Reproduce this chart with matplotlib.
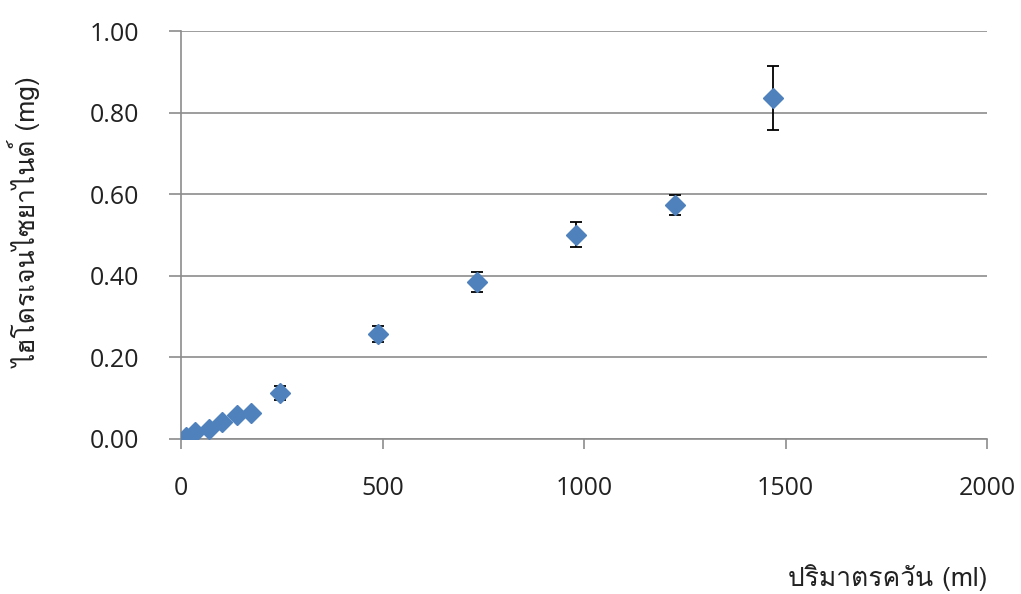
import matplotlib
matplotlib.use("Agg")
import matplotlib.pyplot as plt
from matplotlib import font_manager
from matplotlib.ft2font import FT2Font

# data
smoke_ml = [12, 35, 70, 102, 139, 174, 245, 490, 735, 980, 1225, 1470]
hcn_mg = [0.005, 0.017, 0.025, 0.042, 0.060, 0.063, 0.113, 0.258, 0.385, 0.501, 0.574, 0.837]
hcn_err = [0.002, 0.002, 0.002, 0.003, 0.003, 0.003, 0.018, 0.020, 0.024, 0.031, 0.024, 0.078]

xticks = [0, 500, 1000, 1500, 2000]
yticks = [0.0, 0.2, 0.4, 0.6, 0.8, 1.0]
xlabel = "ปริมาตรควัน (ml)"
ylabel = "ไฮโดรเจนไซยาไนด์ (mg)"


# find an installed font that has Thai glyphs
def thai_font():
    for f in font_manager.fontManager.ttflist:
        try:
            cm = FT2Font(f.fname).get_charmap()
        except Exception:
            continue
        if 0x0E1B in cm and 0x0E44 in cm:
            return f.name
    return None


tf = thai_font()
label_fam = ["Open Sans", "DejaVu Sans"] if tf is None else [tf, "Open Sans", "DejaVu Sans"]
plt.rcParams["font.family"] = ["Open Sans", "DejaVu Sans"]

fig = plt.figure(figsize=(10.21, 5.94), dpi=100)
ax = fig.add_axes([0.1773, 0.261, 0.7894, 0.686])

grid_c = "#8c8c8c"
txt_c = "#222222"
ax.errorbar(smoke_ml, hcn_mg, yerr=hcn_err, fmt="D", color="#4f81bd", ms=10.5,
            ecolor="black", elinewidth=1.3, capsize=4, capthick=1.3, zorder=3)

ax.set_xlim(0, 2000)
ax.set_ylim(0, 1.0)
ax.set_xticks(xticks)
ax.set_yticks(yticks)
ax.set_yticklabels(["%.2f" % v for v in yticks])
ax.yaxis.grid(True, color=grid_c, lw=1.2)
ax.set_axisbelow(True)

for s in ["top", "right"]:
    ax.spines[s].set_visible(False)
for s in ["left", "bottom"]:
    ax.spines[s].set_color(grid_c)
    ax.spines[s].set_linewidth(1.2)

ax.tick_params(axis="y", length=9, width=1.2, color=grid_c, pad=21, labelsize=18, labelcolor=txt_c)
ax.tick_params(axis="x", length=7, width=1.2, color=grid_c, pad=20, labelsize=18, labelcolor=txt_c)

ax.set_ylabel(ylabel, fontsize=19, color=txt_c, family=label_fam, va="center")
ax.yaxis.set_label_coords(-0.1935, 0.532)
ax.set_xlabel(xlabel, fontsize=19, color=txt_c, family=label_fam)
ax.xaxis.set_label_coords(1.0, -0.341)
ax.xaxis.label.set_horizontalalignment("right")
ax.xaxis.label.set_verticalalignment("center")

fig.savefig("out.png", dpi=100)
